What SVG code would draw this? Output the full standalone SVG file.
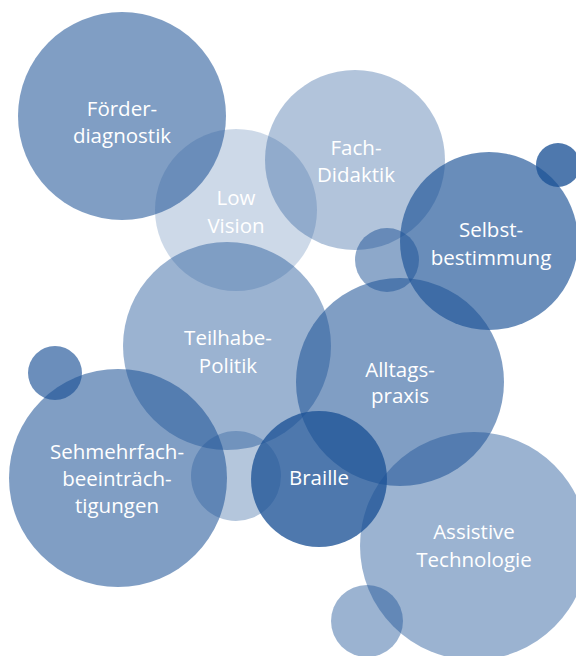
<svg xmlns="http://www.w3.org/2000/svg" width="576" height="656" viewBox="0 0 576 656">
<style>
circle{fill:rgb(28,82,150)}
text{fill:#fff;font-family:"Open Sans","Noto Sans",sans-serif;font-size:20.5px;text-anchor:middle}
</style>
<rect width="576" height="656" fill="#fff"/>
<g id="decorations">
<circle cx="558" cy="165" r="22" fill-opacity="0.78"/>
<circle cx="387" cy="260" r="32" fill-opacity="0.5"/>
<circle cx="55" cy="373" r="27" fill-opacity="0.65"/>
<circle cx="236" cy="476" r="45" fill-opacity="0.33"/>
<circle cx="367" cy="621" r="36" fill-opacity="0.44"/>
</g>
<g id="foerderdiagnostik">
<circle cx="122" cy="116" r="104" fill-opacity="0.56"/>
<text x="122" y="116">Förder-</text>
<text x="122" y="143">diagnostik</text>
</g>
<g id="low-vision">
<circle cx="236" cy="210" r="81" fill-opacity="0.22"/>
<text x="236" y="205">Low</text>
<text x="236" y="233">Vision</text>
</g>
<g id="fach-didaktik">
<circle cx="355" cy="160" r="90" fill-opacity="0.34"/>
<text x="356" y="155">Fach-</text>
<text x="356" y="182">Didaktik</text>
</g>
<g id="selbstbestimmung">
<circle cx="489" cy="241" r="89" fill-opacity="0.66"/>
<text x="491" y="237">Selbst-</text>
<text x="491" y="265">bestimmung</text>
</g>
<g id="teilhabe-politik">
<circle cx="227" cy="346" r="104" fill-opacity="0.44"/>
<text x="228" y="345">Teilhabe-</text>
<text x="228" y="373">Politik</text>
</g>
<g id="sehmehrfach">
<circle cx="118" cy="478" r="109" fill-opacity="0.56"/>
<text x="117" y="459">Sehmehrfach-</text>
<text x="117" y="486">beeinträch-</text>
<text x="117" y="513">tigungen</text>
</g>
<g id="alltagspraxis">
<circle cx="400" cy="382" r="104" fill-opacity="0.56"/>
<text x="400" y="377">Alltags-</text>
<text x="400" y="403">praxis</text>
</g>
<g id="assistive-technologie">
<circle cx="474" cy="546" r="114" fill-opacity="0.44"/>
<text x="474" y="539">Assistive</text>
<text x="474" y="567">Technologie</text>
</g>
<g id="braille">
<circle cx="319" cy="479" r="68" fill-opacity="0.78"/>
<text x="319" y="485">Braille</text>
</g>
</svg>
